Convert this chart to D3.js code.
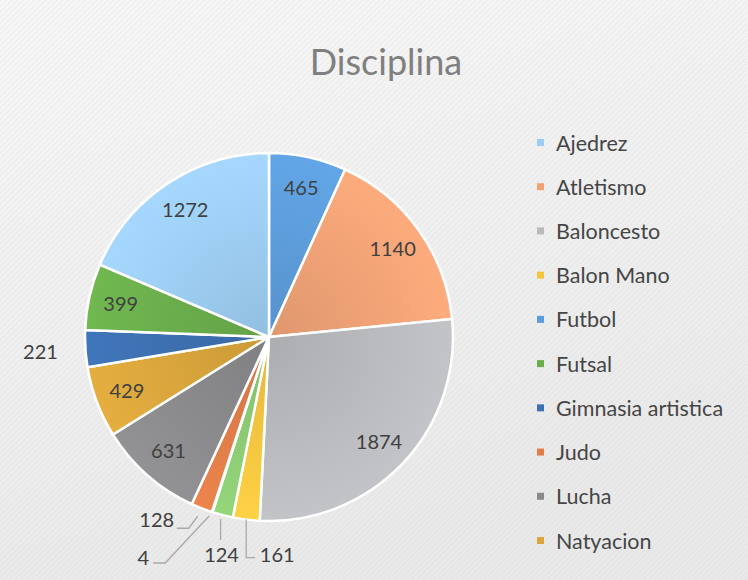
<!DOCTYPE html>
<html>
<head>
<meta charset="utf-8">
<script src="https://cdn.jsdelivr.net/npm/d3@7"></script>
<style>
  body { margin: 0; background: #f1f1f1; }
  svg { display: block; }
</style>
</head>
<body>
<div id="chart"></div>
<script>
// slices in drawing order, clockwise from 12 o'clock
const categories = ["Futbol", "Atletismo", "Baloncesto", "Balon Mano", "Tenis", "Voleibol",
   "Judo", "Lucha", "Natyacion", "Gimnasia artistica", "Futsal", "Ajedrez"];
const values = [465, 1140, 1874, 161, 124, 4, 128, 631, 429, 221, 399, 1272];
// legend (only the first ten entries are visible)
const legendLabels = ["Ajedrez", "Atletismo", "Baloncesto", "Balon Mano", "Futbol", "Futsal",
   "Gimnasia artistica", "Judo", "Lucha", "Natyacion"];
const sliceColors = ["#5d9ddb", "#f0a276", "#b9babe", "#f3c640", "#8ccb74", "#9e480e",
   "#e07d48", "#8a8a8d", "#d9a53c", "#3d70b0", "#6aae4c", "#9dcdf2"];

const width = 748, height = 580;
const cx = 269, cy = 337, R = 184;

// label placement for small slices: offsets from the outer edge point of the slice
const labelLayout = {
   "Balon Mano": {dx: 31, dy: 35, leader: [[0, 0], [0, 38], [9, 38]]},
   "Tenis": {dx: -1, dy: 40, leader: [[-2, 4], [-2, 25]]},
   "Voleibol": {dx: -69, dy: 46, leader: [[-3, 4], [-47, 51], [-59, 51]]},
   "Judo": {dx: -45, dy: 12, leader: [[-4, 8], [-13, 20], [-25, 20]]},
   "Gimnasia artistica": {radius: 229}
};

const color = d3.scaleOrdinal().domain(categories).range(sliceColors);
const data = categories.map((c, i) => ({name: c, value: values[i]}));

const svg = d3.select("#chart").append("svg")
   .attr("width", width)
   .attr("height", height)
   .style("font-family", "Lato, 'Open Sans', sans-serif");

const defs = svg.append("defs");

// paper-like background
const bg = defs.append("linearGradient").attr("id", "bg")
   .attr("x1", 0).attr("y1", 0).attr("x2", 0.3).attr("y2", 1);
bg.append("stop").attr("offset", "0%").attr("stop-color", "#f7f7f7");
bg.append("stop").attr("offset", "100%").attr("stop-color", "#e9e9e9");
const hatch = defs.append("pattern").attr("id", "hatch")
   .attr("width", 4).attr("height", 4)
   .attr("patternUnits", "userSpaceOnUse")
   .attr("patternTransform", "rotate(45)");
hatch.append("line").attr("x1", 0).attr("y1", 0).attr("x2", 0).attr("y2", 4)
   .attr("stroke", "#d2d2d2").attr("stroke-width", 1).attr("opacity", 0.55);

svg.append("rect").attr("width", width).attr("height", height).attr("fill", "url(#bg)");
svg.append("rect").attr("width", width).attr("height", height).attr("fill", "url(#hatch)");

// one radial gradient per slice colour
sliceColors.forEach((c, i) => {
   const g = defs.append("radialGradient")
      .attr("id", "grad" + i)
      .attr("gradientUnits", "userSpaceOnUse")
      .attr("cx", 0).attr("cy", 0).attr("r", R);
   g.append("stop").attr("offset", "0%").attr("stop-color", d3.color(c).darker(0.2));
   g.append("stop").attr("offset", "100%").attr("stop-color", d3.color(c).brighter(0.15));
});

// title
svg.append("text")
   .attr("x", 386)
   .attr("y", 75)
   .attr("text-anchor", "middle")
   .attr("font-size", 36)
   .attr("fill", "#7f7f7f")
   .text("Disciplina");

const pie = d3.pie().sort(null).value(d => d.value);
const arcs = pie(data);
const arc = d3.arc().innerRadius(0).outerRadius(R);
const edge = d3.arc().innerRadius(R).outerRadius(R);
const inner = d3.arc().innerRadius(152).outerRadius(152);

const g = svg.append("g").attr("transform", "translate(" + cx + "," + cy + ")");

g.selectAll("path.slice")
   .data(arcs)
   .enter().append("path")
   .attr("class", "slice")
   .attr("d", arc)
   .attr("fill", d => "url(#grad" + categories.indexOf(d.data.name) + ")")
   .attr("stroke", "#ffffff")
   .attr("stroke-width", 2.5)
   .attr("stroke-linejoin", "round");

// data labels
arcs.forEach(d => {
   const lay = labelLayout[d.data.name];
   let pos;
   if (!lay) {
      pos = inner.centroid(d);
   } else if (lay.radius) {
      pos = d3.arc().innerRadius(lay.radius).outerRadius(lay.radius).centroid(d);
   } else {
      const a = edge.centroid(d);
      pos = [a[0] + lay.dx, a[1] + lay.dy];
      g.append("path")
         .attr("d", d3.line()(lay.leader.map(p => [a[0] + p[0], a[1] + p[1]])))
         .attr("fill", "none")
         .attr("stroke", "#a9a9ad")
         .attr("stroke-width", 1.3);
   }
   g.append("text")
      .attr("x", pos[0])
      .attr("y", pos[1])
      .attr("dy", "0.35em")
      .attr("text-anchor", "middle")
      .attr("font-size", 20)
      .attr("fill", "#404040")
      .text(d3.format("d")(d.data.value));
});

// legend
const legendY = d3.scalePoint().domain(legendLabels).range([143, 541]);
const legend = svg.append("g");
const item = legend.selectAll("g")
   .data(legendLabels)
   .enter().append("g")
   .attr("transform", d => "translate(537," + legendY(d) + ")");
item.append("rect")
   .attr("x", 0).attr("y", -4)
   .attr("width", 7).attr("height", 7)
   .attr("fill", d => color(d));
item.append("text")
   .attr("x", 19)
   .attr("dy", "0.35em")
   .attr("font-size", 21.5)
   .attr("fill", "#454545")
   .text(d => d);
</script>
</body>
</html>
